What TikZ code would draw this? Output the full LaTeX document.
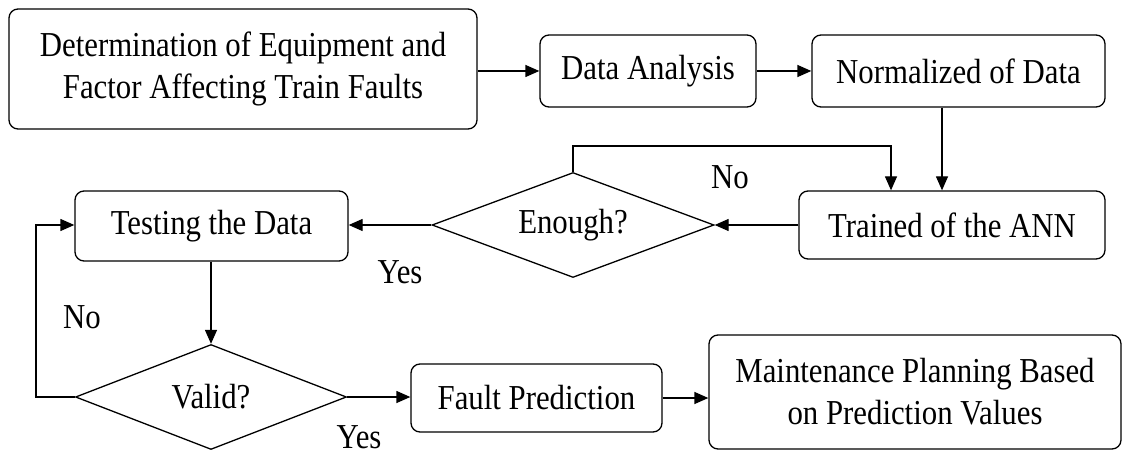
\documentclass[tikz,border=0pt]{standalone}
\usepackage{fontspec}
\setmainfont{Liberation Serif}[FakeStretch=0.88]
\usetikzlibrary{shapes.geometric,arrows.meta}

\tikzset{
  stepbox/.style={draw, rounded corners=9pt, line width=1.3pt, inner sep=0pt,
                  align=center},
  decision/.style={draw, diamond, line width=1.3pt, inner sep=0pt,
                   shape aspect=2.7},
  flow/.style={line width=1.3pt, -{Triangle[length=14pt,width=12pt]}},
  lbl/.style={inner sep=0pt}
}

\begin{document}
\begin{tikzpicture}[x=1pt, y=-1pt,
  every node/.append style={font=\fontsize{35}{42}\selectfont}]
  \useasboundingbox (0,0) rectangle (1124,457);

  % top row
  \node[stepbox, minimum width=468pt, minimum height=120pt] (det) at (243,69)
    {Determination of Equipment and\\Factor Affecting Train Faults};
  \node[stepbox, minimum width=216pt, minimum height=72pt] (da) at (648,71)
    {Data Analysis};
  \node[stepbox, minimum width=293pt, minimum height=72pt] (norm) at (958.5,71)
    {Normalized of Data};

  % middle row
  \node[stepbox, minimum width=306pt, minimum height=68pt] (train) at (952,225)
    {Trained of the ANN};
  \node[decision, minimum width=282pt, minimum height=105pt] (enough) at (573,225)
    {Enough?};
  \node[stepbox, minimum width=273pt, minimum height=70pt] (test) at (211.5,226)
    {Testing the Data};

  % bottom row
  \node[decision, minimum width=271pt, minimum height=105pt] (valid) at (211,397)
    {Valid?};
  \node[stepbox, minimum width=251pt, minimum height=68pt] (fault) at (536.5,398)
    {Fault Prediction};
  \node[stepbox, minimum width=412pt, minimum height=114pt] (maint) at (915,392)
    {Maintenance Planning Based\\on Prediction Values};

  % branch labels
  \node[lbl] (noA) at (730,177) {No};
  \node[lbl] (yesA) at (400,272) {Yes};
  \node[lbl] (noB) at (82,317) {No};
  \node[lbl] (yesB) at (359,437) {Yes};

  % loop corners
  \coordinate (loopA) at (573,146);
  \coordinate (loopB) at (36,397);

  % connectors
  \draw[flow] (det.east |- da.west) -- (da.west);
  \draw[flow] (da.east) -- (norm.west);
  \draw[flow] (942,0 |- norm.south) -- (942,0 |- train.north);
  \draw[flow] (enough.north) -- (loopA) -- (891,146) -- (891,0 |- train.north);
  \draw[flow] (train.west |- enough.east) -- (enough.east);
  \draw[flow] (enough.west) -- (test.east |- enough.west);
  \draw[flow] (valid.north |- test.south) -- (valid.north);
  \draw[flow] (valid.west) -- (loopB) -- (loopB |- enough.west) -- (test.west |- enough.west);
  \draw[flow] (valid.east) -- (fault.west |- valid.east);
  \draw[flow] (fault.east) -- (maint.west |- fault.east);
\end{tikzpicture}
\end{document}
